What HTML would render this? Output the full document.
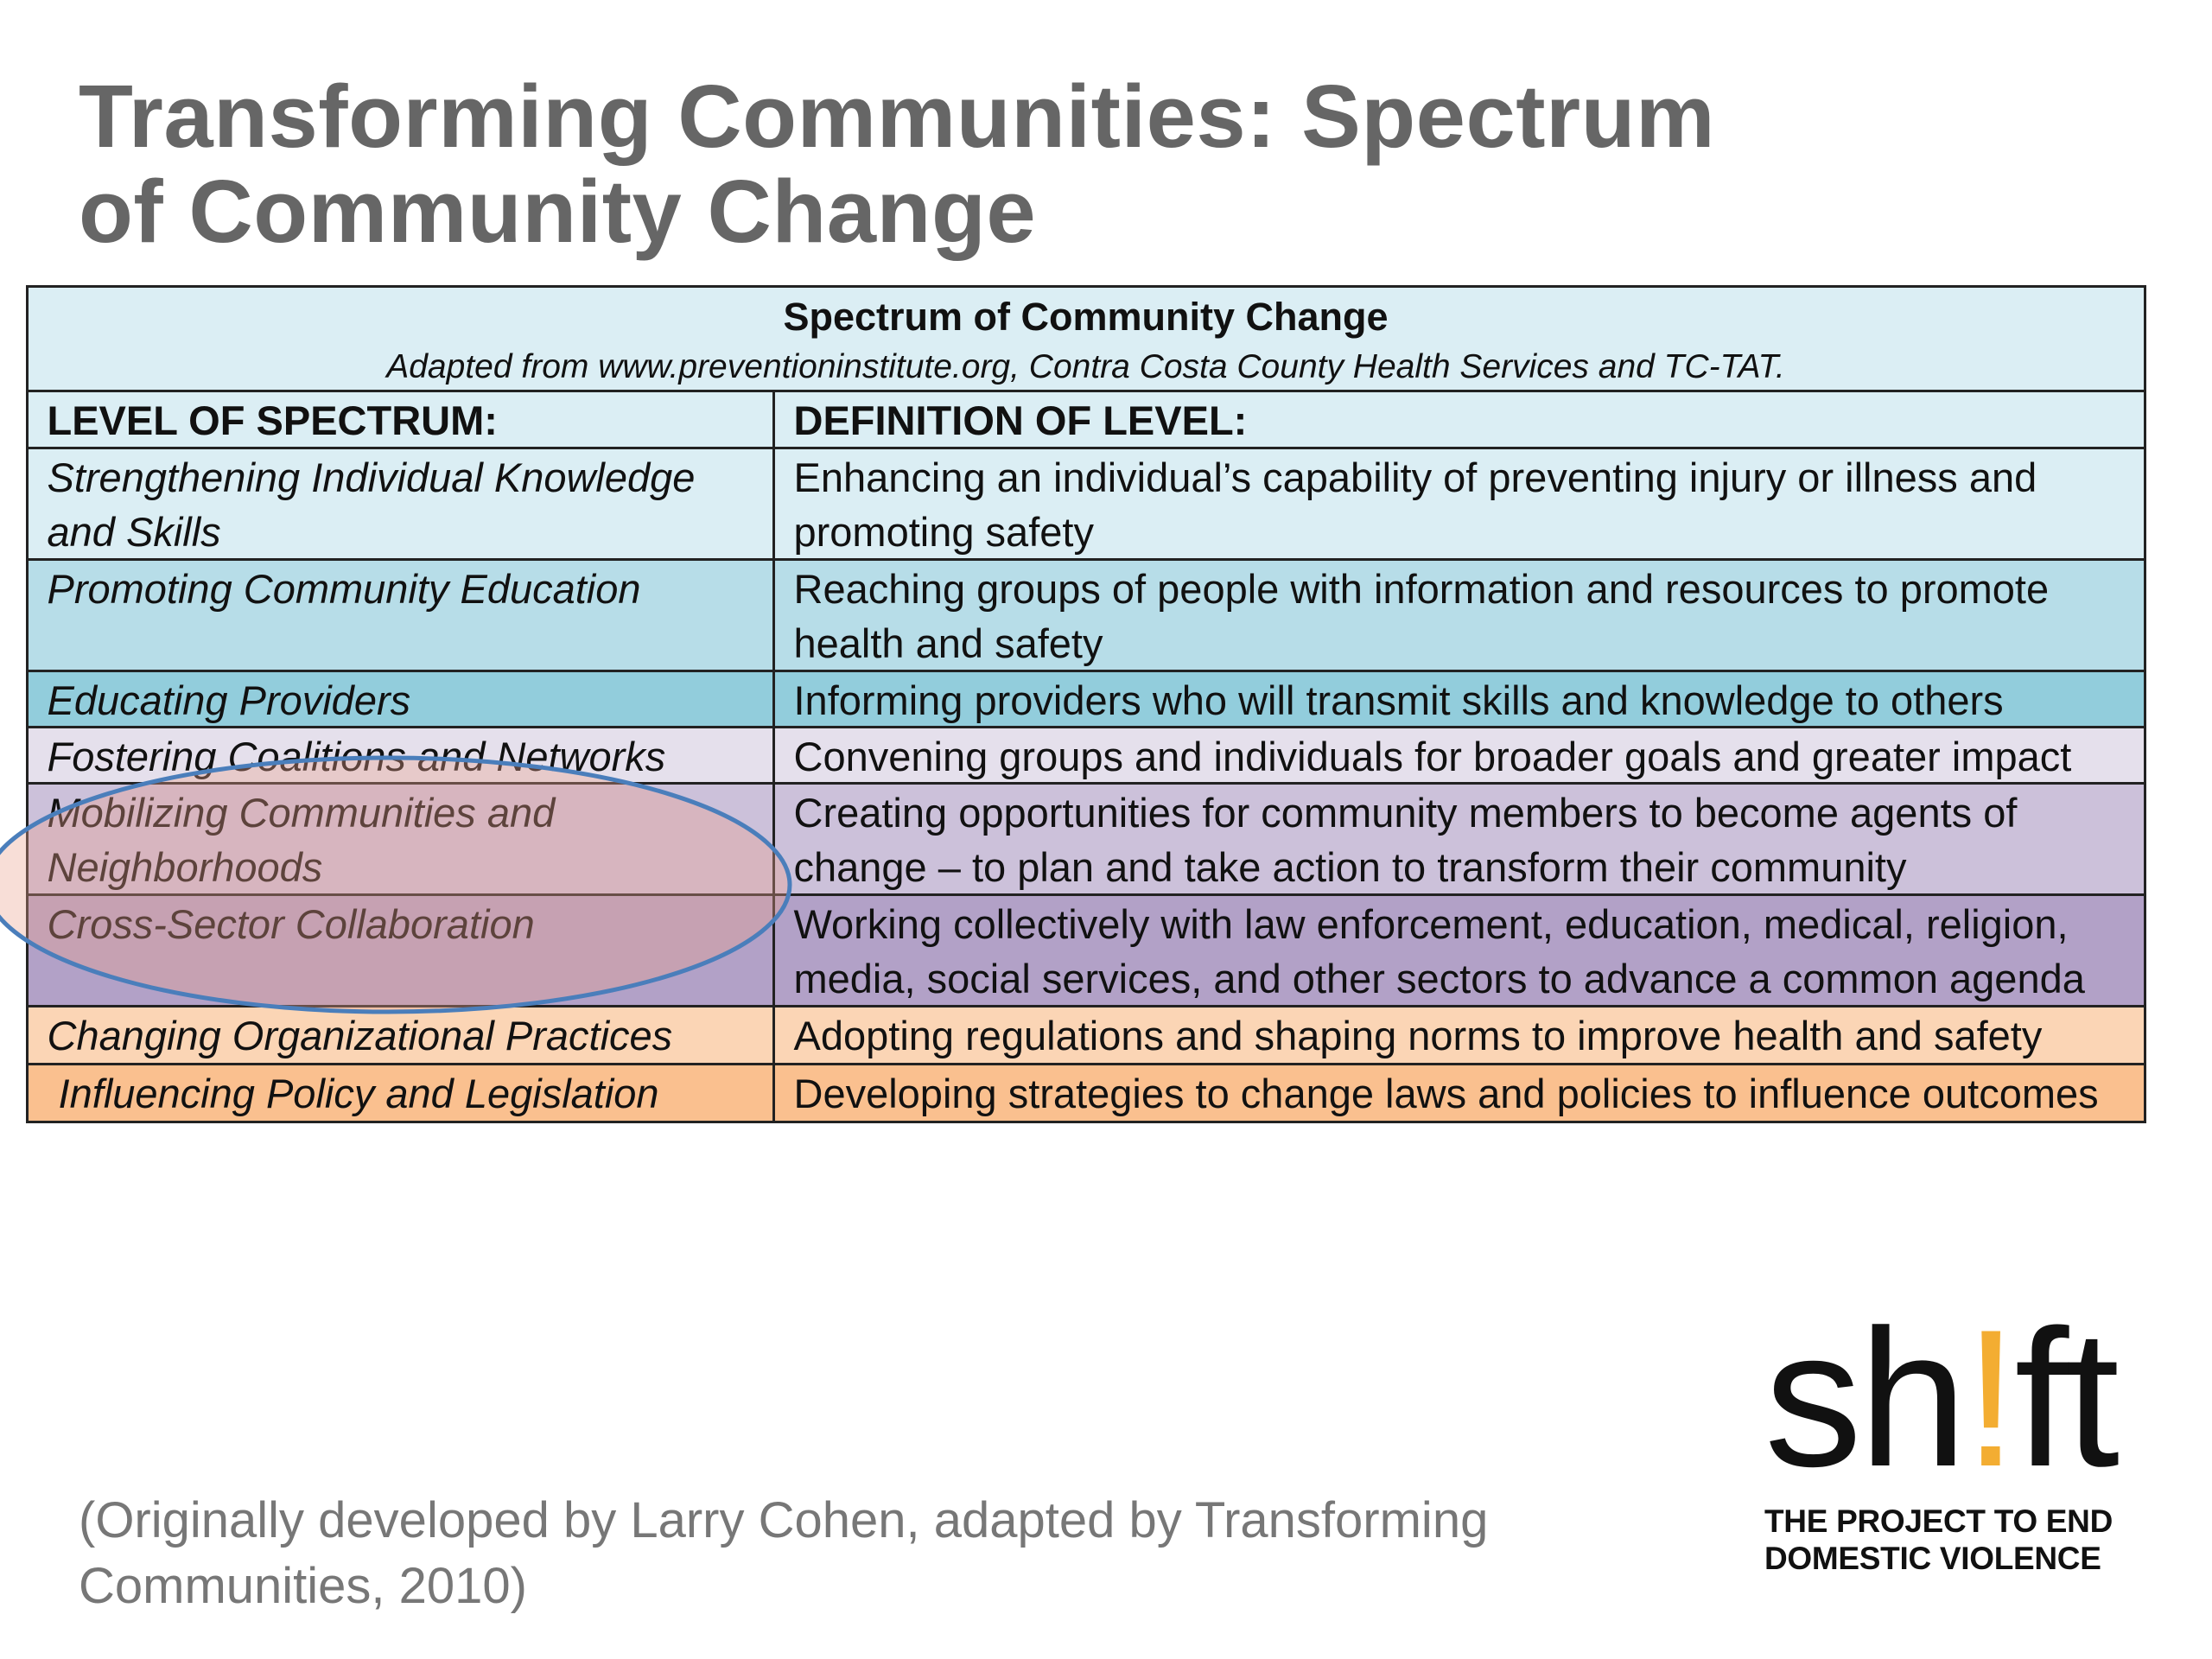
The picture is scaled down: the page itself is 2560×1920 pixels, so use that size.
<!DOCTYPE html>
<html><head><meta charset="utf-8">
<style>
body{margin:0;width:2560px;height:1920px;background:#fff;position:relative;overflow:hidden;font-family:"Liberation Sans",sans-serif}
.t{position:absolute;left:91px;font-weight:bold;color:#666;font-size:103px;line-height:110px;letter-spacing:0.5px}
.c{position:absolute;box-sizing:border-box;border:3px solid #222;color:#111;font-size:47px;line-height:63px;padding:1px 22px;margin:-1.5px 0 0 -1.5px;white-space:nowrap;overflow:hidden}
.i{font-style:italic}
.foot{position:absolute;left:91px;top:1722px;font-size:58px;line-height:76px;color:#777}
</style></head><body>
<div class="t" style="top:80px">Transforming Communities: Spectrum<br>of Community Change</div>

<div>
<div class="c" style="left:31px;top:331px;width:2454px;height:124px;background:#dbeef4;text-align:center;line-height:54px;padding-top:6px"><b style="font-size:45px">Spectrum of Community Change</b><br><span class="i" style="font-size:39px">Adapted from www.preventioninstitute.org, Contra Costa County Health Services and TC-TAT.</span></div>
</div>
<div id="rows"></div>

<svg style="position:absolute;left:0;top:0" width="2560" height="1920"><ellipse cx="449" cy="1024" rx="465" ry="147" fill="rgba(235,160,140,0.35)" stroke="#4a7ebb" stroke-width="5"/></svg>

<div class="foot">(Originally developed by Larry Cohen, adapted by Transforming<br>Communities, 2010)</div>

<div style="position:absolute;left:2042px;top:1505px;width:420px">
<div style="font-size:226px;line-height:226px;letter-spacing:-4px;color:#111">sh<span style="color:#f3ad32">!</span>ft</div>
<div style="font-size:37px;line-height:43px;font-weight:bold;color:#111;margin-top:8px;letter-spacing:-0.3px">THE PROJECT TO END<br>DOMESTIC VIOLENCE</div>
</div>

<script>
const levels=["<b>LEVEL OF SPECTRUM:</b>","Strengthening Individual Knowledge<br>and Skills","Promoting Community Education","Educating Providers","Fostering Coalitions and Networks","Mobilizing Communities  and<br>Neighborhoods","Cross-Sector Collaboration","Changing  Organizational Practices","&nbsp;Influencing Policy and Legislation"];
const defs=["<b>DEFINITION OF LEVEL:</b>","Enhancing an individual’s capability of preventing injury or illness and<br>promoting safety","Reaching groups of people with information and resources to promote<br>health and safety","Informing providers who will transmit skills and knowledge to others","Convening groups and individuals for broader goals and greater impact","Creating opportunities for community members to become agents of<br>change – to plan and take action to transform their community","Working collectively with law enforcement, education, medical, religion,<br>media, social services, and other sectors to advance a common agenda","Adopting regulations and shaping norms to improve health and safety","Developing strategies to change laws and policies to influence outcomes"];
const colors=["#dbeef4","#dbeef4","#b7dde8","#92cddc","#e5e0ec","#ccc1da","#b2a1c7","#fbd5b5","#fac08f"];
const bounds=[452,518,647,776,841,906,1035,1164,1231,1298];
const rows=document.getElementById('rows');
for(let r=0;r<levels.length;r++){
  const top=bounds[r],h=bounds[r+1]-bounds[r]+3;
  const a=document.createElement('div');
  a.className='c'+(r>0?' i':'');
  
  
  a.style.cssText=`left:31px;top:${top}px;width:867px;height:${h}px;background:${colors[r]}`;
  a.innerHTML=levels[r];rows.appendChild(a);
  const b=document.createElement('div');
  b.className='c';
  
  
  b.style.cssText=`left:895px;top:${top}px;width:1590px;height:${h}px;background:${colors[r]}`;
  b.innerHTML=defs[r];rows.appendChild(b);
}
</script>
</body></html>
